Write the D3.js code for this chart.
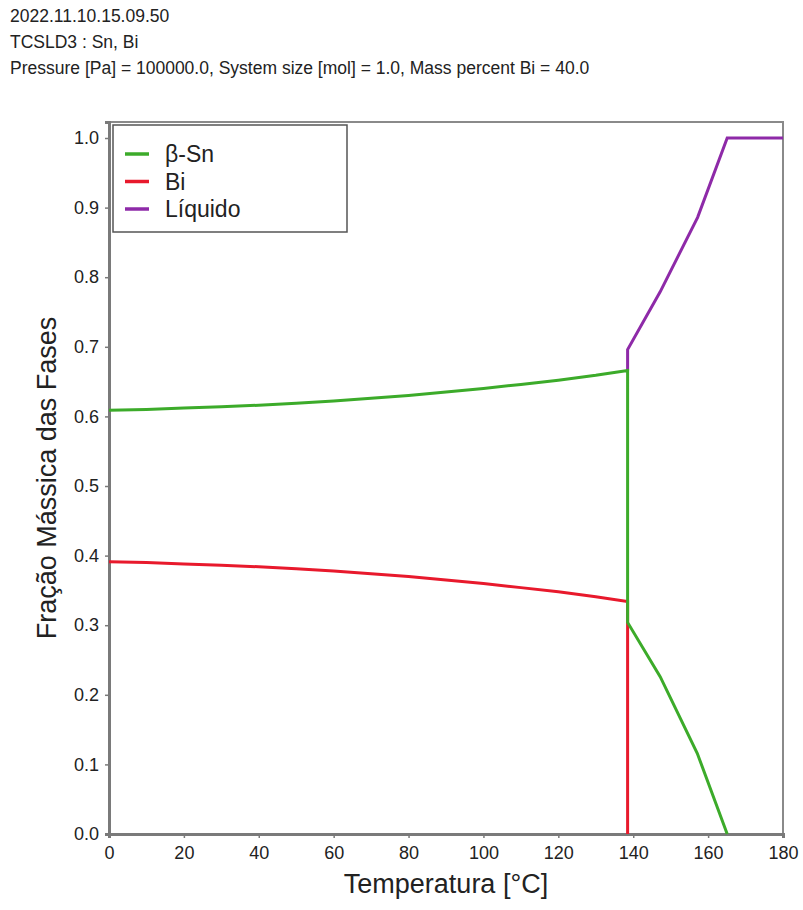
<!DOCTYPE html>
<html>
<head>
<meta charset="utf-8">
<script src="https://cdn.jsdelivr.net/npm/d3@7"></script>
<style>
  body { margin: 0; background: #fff; }
  svg text { font-family: "Liberation Sans", Arial, sans-serif; fill: #222; }
</style>
</head>
<body>
<div id="container"></div>
<script>
const headerLines = [
  '2022.11.10.15.09.50',
  'TCSLD3 : Sn, Bi',
  'Pressure [Pa] = 100000.0, System size [mol] = 1.0, Mass percent Bi = 40.0'
];

const xTicks = [0, 20, 40, 60, 80, 100, 120, 140, 160, 180];
const yTicks = [0, 0.1, 0.2, 0.3, 0.4, 0.5, 0.6, 0.7, 0.8, 0.9, 1.0];

// temperature [°C] / mass fraction pairs
const snTemp = [0, 10, 20, 30, 40, 50, 60, 70, 80, 90, 100, 110, 120, 130, 138.5, 138.5, 147.2, 157.1, 165.1];
const snFrac = [0.609, 0.610, 0.612, 0.614, 0.616, 0.619, 0.622, 0.626, 0.630, 0.635, 0.640, 0.646, 0.652, 0.659, 0.666, 0.304, 0.226, 0.116, 0.0];

const biTemp = [0, 10, 20, 30, 40, 50, 60, 70, 80, 90, 100, 110, 120, 130, 138.5, 138.5];
const biFrac = [0.391, 0.390, 0.388, 0.386, 0.384, 0.381, 0.378, 0.374, 0.370, 0.365, 0.360, 0.354, 0.348, 0.341, 0.334, 0.0];

const liqTemp = [138.5, 138.5, 147.2, 157.2, 165.1, 180];
const liqFrac = [0.666, 0.696, 0.779, 0.886, 1.0, 1.0];

const seriesNames = ['β-Sn', 'Bi', 'Líquido'];
const seriesColors = ['#3cab2a', '#e8192c', '#8e2aa8'];

const width = 803, height = 910;
const margin = { top: 122, right: 20, bottom: 76, left: 109 };

const svg = d3.select('#container')
  .append('svg')
  .attr('width', width)
  .attr('height', height);

svg.append('g')
  .selectAll('text')
  .data(headerLines)
  .enter()
  .append('text')
  .attr('x', 10)
  .attr('y', (d, i) => 22 + i * 26)
  .attr('font-size', 17.5)
  .text(d => d);

const x = d3.scaleLinear()
  .domain([0, 180])
  .range([margin.left, width - margin.right]);

const y = d3.scaleLinear()
  .domain([0, 1.023])
  .range([height - margin.bottom, margin.top]);

// frame (top + right)
svg.append('rect')
  .attr('x', x(0))
  .attr('y', y(1.023))
  .attr('width', x(180) - x(0))
  .attr('height', y(0) - y(1.023))
  .attr('fill', 'none')
  .attr('stroke', '#8a8a8a')
  .attr('stroke-width', 2);

const xAxis = svg.append('g')
  .attr('transform', `translate(0,${y(0)})`)
  .call(d3.axisBottom(x).tickValues(xTicks).tickFormat(d3.format('d')).tickSize(4).tickPadding(8));

const yAxis = svg.append('g')
  .attr('transform', `translate(${x(0)},0)`)
  .call(d3.axisLeft(y).tickValues(yTicks).tickFormat(d3.format('.1f')).tickSize(4).tickPadding(6));

[xAxis, yAxis].forEach(a => {
  a.select('.domain').attr('stroke', '#7a7a7a').attr('stroke-width', 3);
  a.selectAll('.tick line').attr('stroke', '#7a7a7a').attr('stroke-width', 1.5);
  a.selectAll('.tick text')
    .attr('font-size', 18)
    .attr('font-family', '"Liberation Sans", Arial, sans-serif')
    .attr('fill', '#333');
});

const line = d3.line()
  .x(d => x(d[0]))
  .y(d => y(d[1]));

const series = [
  { name: seriesNames[2], color: seriesColors[2], pts: d3.zip(liqTemp, liqFrac) },
  { name: seriesNames[1], color: seriesColors[1], pts: d3.zip(biTemp, biFrac) },
  { name: seriesNames[0], color: seriesColors[0], pts: d3.zip(snTemp, snFrac) }
];

svg.append('g')
  .selectAll('path')
  .data(series)
  .enter()
  .append('path')
  .attr('d', d => line(d.pts))
  .attr('fill', 'none')
  .attr('stroke', d => d.color)
  .attr('stroke-width', 3)
  .attr('stroke-linejoin', 'miter');

// legend
const legend = svg.append('g')
  .attr('transform', `translate(${x(0) + 4},${y(1.023) + 3})`);

legend.append('rect')
  .attr('width', 234)
  .attr('height', 107)
  .attr('fill', '#fff')
  .attr('stroke', '#555')
  .attr('stroke-width', 1.5);

const items = legend.selectAll('g.item')
  .data(seriesNames)
  .enter()
  .append('g')
  .attr('class', 'item')
  .attr('transform', (d, i) => `translate(0,${29 + i * 27.5})`);

items.append('line')
  .attr('x1', 12)
  .attr('x2', 36)
  .attr('stroke', (d, i) => seriesColors[i])
  .attr('stroke-width', 3.5);

items.append('text')
  .attr('x', 52)
  .attr('dy', '0.35em')
  .attr('font-size', 23)
  .text(d => d);

svg.append('text')
  .attr('x', (x(0) + x(180)) / 2)
  .attr('y', 893)
  .attr('text-anchor', 'middle')
  .attr('font-size', 27)
  .text('Temperatura [°C]');

svg.append('text')
  .attr('transform', `translate(56,${(y(0) + y(1.023)) / 2}) rotate(-90)`)
  .attr('text-anchor', 'middle')
  .attr('font-size', 27)
  .text('Fração Mássica das Fases');
</script>
</body>
</html>
